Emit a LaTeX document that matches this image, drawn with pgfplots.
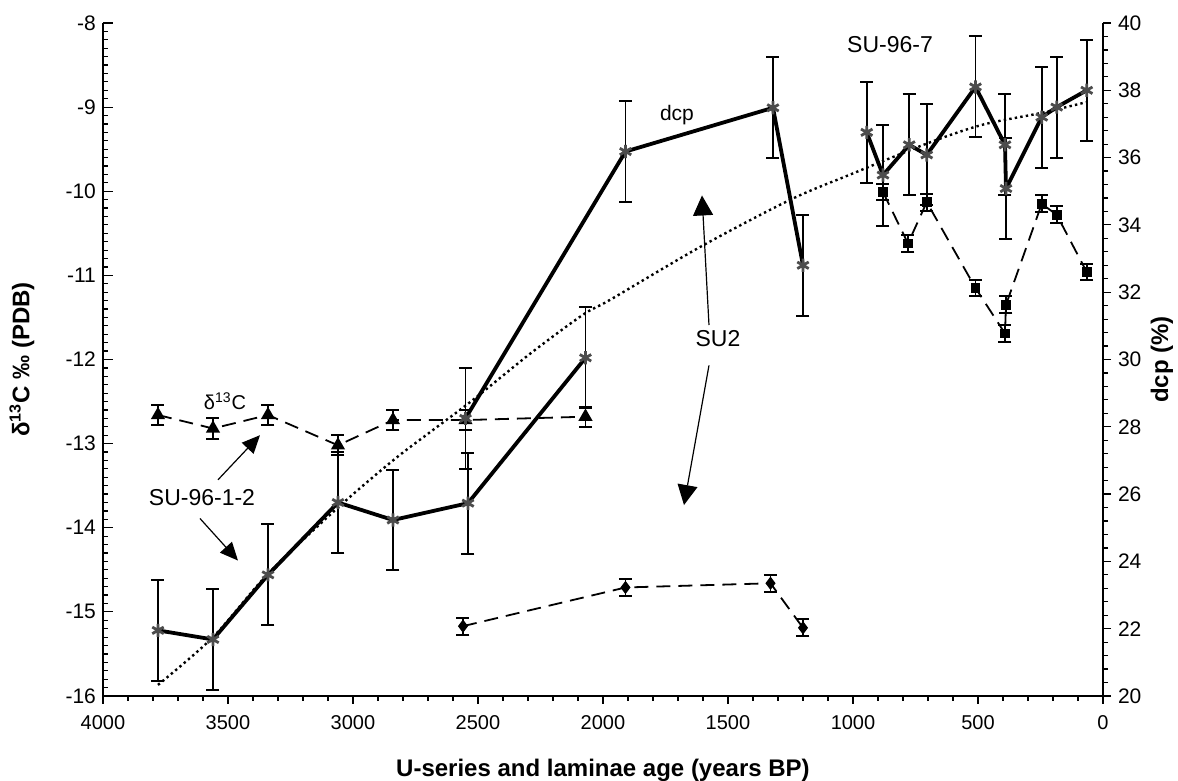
\documentclass[border=0pt]{standalone}
\usepackage{fontspec}
\setmainfont{Liberation Sans}
\usepackage{pgfplots}
\pgfplotsset{compat=1.18}
\usetikzlibrary{arrows.meta}

\pgfplotsset{
  common/.style={scale only axis, width=500pt, height=336.5pt,
    at={(0,0)}, anchor=south west,
    xmin=0, xmax=4000, x dir=reverse, clip=false,
    /pgf/number format/assume math mode=true,
    /pgf/number format/1000 sep={},
    tick style={black, line width=0.6pt},
    axis line style={black, line width=0.8pt}},
  errs/.style={error bars/y dir=both, error bars/y explicit,
    error bars/error bar style={black, solid, line width=0.95pt},
    error bars/error mark options={rotate=90, black, solid, line width=1pt, mark size=3.25pt}},
  dcpline/.style={black, line width=1.9pt, mark=asterisk, mark size=3.3pt,
    mark options={gray!60!black, solid, line width=1.4pt}, errs},
  dline/.style={black, line width=0.9pt, dash pattern=on 7pt off 4pt, errs},
}
\tikzset{arr/.style={black, line width=0.6pt, -{Triangle[length=9pt,width=8pt]}}}

\begin{document}
\begin{tikzpicture}
\useasboundingbox (-51.5pt,-42.5pt) rectangle (537.5pt,348pt);

% left axis: delta 13C
\begin{axis}[common,
  axis x line=none, axis y line*=left,
  ymin=-16, ymax=-8, ytick={-16,-15,...,-8}, minor y tick num=9,
  tick align=inside, major tick length=5pt, minor tick length=2.5pt,
  yticklabel style={font=\fontsize{10.5}{12}\selectfont},
  ylabel={δ\textsuperscript{13}C ‰ (PDB)},
  ylabel style={at={(axis description cs:-0.081,0.5)}, anchor=center,
    font=\fontsize{12}{14}\selectfont\bfseries}]

% SU-96-1-2 d13C
\addplot[dline, mark=triangle*, mark size=3.2pt, mark options={solid, black}]
  coordinates {(3780,-12.66) +- (0,0.12) (3560,-12.82) +- (0,0.12)
  (3340,-12.66) +- (0,0.12) (3060,-13.02) +- (0,0.12)
  (2840,-12.72) +- (0,0.12) (2550,-12.72) +- (0,0.12)
  (2070,-12.68) +- (0,0.12)};

% SU2 d13C
\addplot[dline, mark=diamond*, mark size=2.6pt, mark options={solid, black}]
  coordinates {(2560,-15.17) +- (0,0.1) (1910,-14.71) +- (0,0.1)
  (1330,-14.66) +- (0,0.1) (1200,-15.19) +- (0,0.1)};

% SU-96-7 d13C
\addplot[dline, mark=square*, mark size=2pt, mark options={solid, black}]
  coordinates {(880,-10.01) +- (0,0.1) (780,-10.62) +- (0,0.1)
  (705,-10.13) +- (0,0.1) (510,-11.15) +- (0,0.1)
  (392,-11.69) +- (0,0.1) (388,-11.35) +- (0,0.1)
  (245,-10.15) +- (0,0.1) (185,-10.28) +- (0,0.1)
  (65,-10.96) +- (0,0.1)};

\node[font=\fontsize{10}{12}\selectfont] at (3512,-12.5) {δ\textsuperscript{13}C};
\node[font=\fontsize{11.5}{13}\selectfont] at (3604,-13.64) {SU-96-1-2};
\draw[arr] (3540,-13.43) -- (3372,-12.90);
\draw[arr] (3612,-13.89) -- (3460,-14.39);
\node[font=\fontsize{11.5}{13}\selectfont] at (1540,-11.75) {SU2};
\draw[arr, -{Triangle[length=10pt,width=10pt]}] (1576,-11.59) -- (1604,-10.05);
\draw[arr, -{Triangle[length=10pt,width=10pt]}] (1576,-12.07) -- (1676,-13.73);
\node[font=\fontsize{10.5}{12}\selectfont] at (1704,-9.09) {dcp};
\node[font=\fontsize{11.5}{13}\selectfont] at (852,-8.26) {SU-96-7};
\end{axis}

% right axis: dcp
\begin{axis}[common,
  axis x line*=bottom, axis y line*=right,
  ymin=20, ymax=40, ytick={20,22,...,40}, minor y tick num=4,
  xtick={0,500,...,4000}, minor x tick num=4,
  tick align=outside, major tick length=4pt, minor tick length=2.5pt,
  xticklabel style={font=\fontsize{10}{12}\selectfont, yshift=-2pt},
  yticklabel style={font=\fontsize{10.5}{12}\selectfont},
  xlabel={U-series and laminae age (years BP)},
  xlabel style={at={(axis description cs:0.5,-0.11)}, anchor=center,
    font=\fontsize{12}{14}\selectfont\bfseries},
  ylabel={dcp (\%)},
  ylabel style={at={(axis description cs:1.059,0.5)}, anchor=center,
    font=\fontsize{12}{14}\selectfont\bfseries}]

% trend line
\addplot[black, line width=1.2pt, dash pattern=on 1.2pt off 1.6pt, smooth, no marks]
  coordinates {(3780,20.33) (3560,21.75) (3340,23.63) (3060,25.6)
  (2840,27.0) (2690,27.85) (2520,28.8) (2290,30.18) (2080,31.33)
  (1970,31.78) (1610,33.35) (1250,34.75) (1010,35.5) (700,36.43)
  (480,36.98) (245,37.33) (65,37.65)};

% SU-96-1-2 dcp
\addplot[dcpline] coordinates {(3780,21.95) +- (0,1.5) (3560,21.68) +- (0,1.5)
  (3340,23.6) +- (0,1.5) (3060,25.75) +- (0,1.5) (2840,25.23) +- (0,1.5)
  (2540,25.73) +- (0,1.5) (2070,30.05) +- (0,1.5)};

% SU2 dcp
\addplot[dcpline] coordinates {(2550,28.25) +- (0,1.5) (1910,36.18) +- (0,1.5)
  (1320,37.48) +- (0,1.5) (1200,32.8) +- (0,1.5)};

% SU-96-7 dcp
\addplot[dcpline] coordinates {(945,36.75) +- (0,1.5) (880,35.48) +- (0,1.5)
  (775,36.38) +- (0,1.5) (705,36.08) +- (0,1.5) (510,38.1) +- (0,1.5)
  (392,36.38) +- (0,1.5) (388,35.08) +- (0,1.5) (245,37.2) +- (0,1.5)
  (185,37.5) +- (0,1.5) (65,38.0) +- (0,1.5)};
\end{axis}
\end{tikzpicture}
\end{document}
